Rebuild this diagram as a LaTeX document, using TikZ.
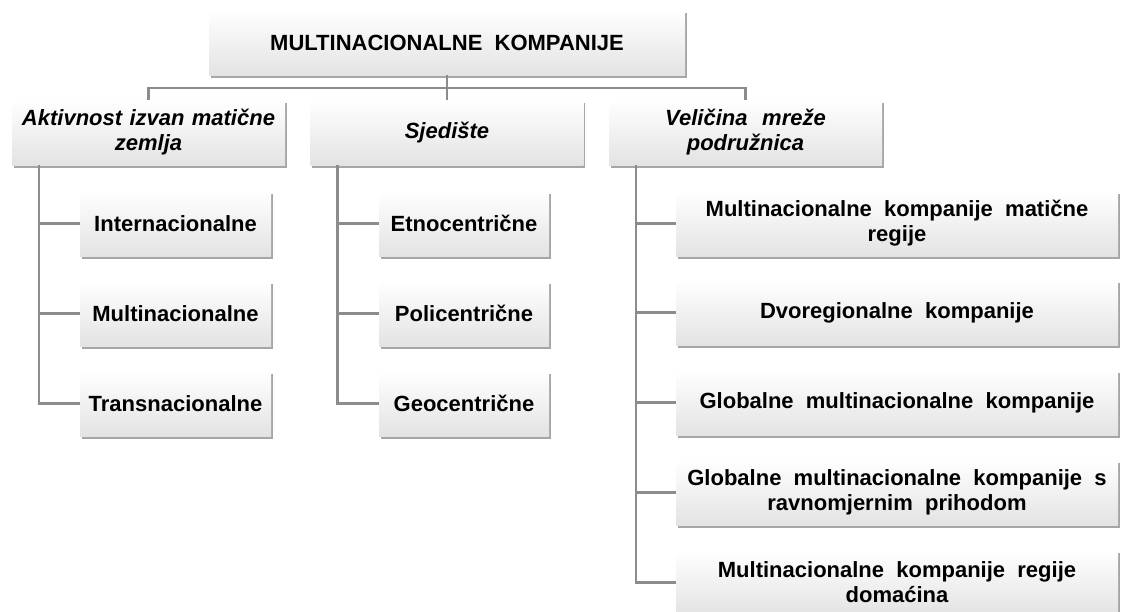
\documentclass[tikz,border=0pt]{standalone}
\usepackage{fontspec}
\setmainfont{Liberation Sans}
\usetikzlibrary{shadows,calc}

\begin{document}
\begin{tikzpicture}[x=1pt,y=-1pt,
  box/.style={rectangle,minimum height=65pt,inner sep=2pt,align=center,
    top color=white,bottom color=black!11,
    drop shadow={shadow xshift=1.5pt,shadow yshift=-2.5pt,opacity=0.35,fill=black},
    font=\fontsize{22}{25}\selectfont\bfseries},
  cat/.style={box,minimum width=273pt,text width=266pt,
    font=\fontsize{22}{25}\selectfont\bfseries\itshape},
  link/.style={draw=black!45,line width=2.5pt}]
\useasboundingbox (0,0) rectangle (1125,611);

\node[box,minimum width=476pt] (top) at (447,42.5) {MULTINACIONALNE\ \ KOMPANIJE};

\node[cat] (aktiv) at (148.5,132.5) {\mbox{Aktivnost izvan matične}\\zemlja};
\node[cat] (sjed) at (447,132.5) {Sjedište};
\node[cat] (velic) at (745.5,132.5) {Veličina\ \ mreže\\podružnica};

\node[box,minimum width=191pt] (intern) at (175.5,223.5) {Internacionalne};
\node[box,minimum width=191pt] (multi) at (175.5,313.5) {Multinacionalne};
\node[box,minimum width=191pt] (trans) at (175.5,403.5) {Transnacionalne};

\node[box,minimum width=170pt] (etno) at (464,223.5) {Etnocentrične};
\node[box,minimum width=170pt] (poli) at (464,313.5) {Policentrične};
\node[box,minimum width=170pt] (geo) at (464,403.5) {Geocentrične};

\node[box,minimum width=442pt] (mkmr) at (897,223.5) {Multinacionalne\ \ kompanije\ \ matične\\regije};
\node[box,minimum width=442pt] (dvor) at (897,312.5) {Dvoregionalne\ \ kompanije};
\node[box,minimum width=442pt] (glob) at (897,402.5) {Globalne\ \ multinacionalne\ \ kompanije};
\node[box,minimum width=442pt] (gmkr) at (897,492.5) {Globalne\ \ multinacionalne\ \ kompanije\ \ s\\ravnomjernim\ \ prihodom};
\node[box,minimum width=442pt] (mkrd) at (897,582.5) {Multinacionalne\ \ kompanije\ \ regije\\domaćina};

\coordinate (bus) at (447,88);
\draw[link] (top.south) -- (sjed.north);
\draw[link] (aktiv.north) |- (bus) -| (velic.north);

\foreach \p/\c in {aktiv/intern,aktiv/multi,aktiv/trans,
    sjed/etno,sjed/poli,sjed/geo,
    velic/mkmr,velic/dvor,velic/glob,velic/gmkr,velic/mkrd}
  \draw[link] ($(\p.south west)+(27,0)$) |- (\c.west);
\end{tikzpicture}
\end{document}
